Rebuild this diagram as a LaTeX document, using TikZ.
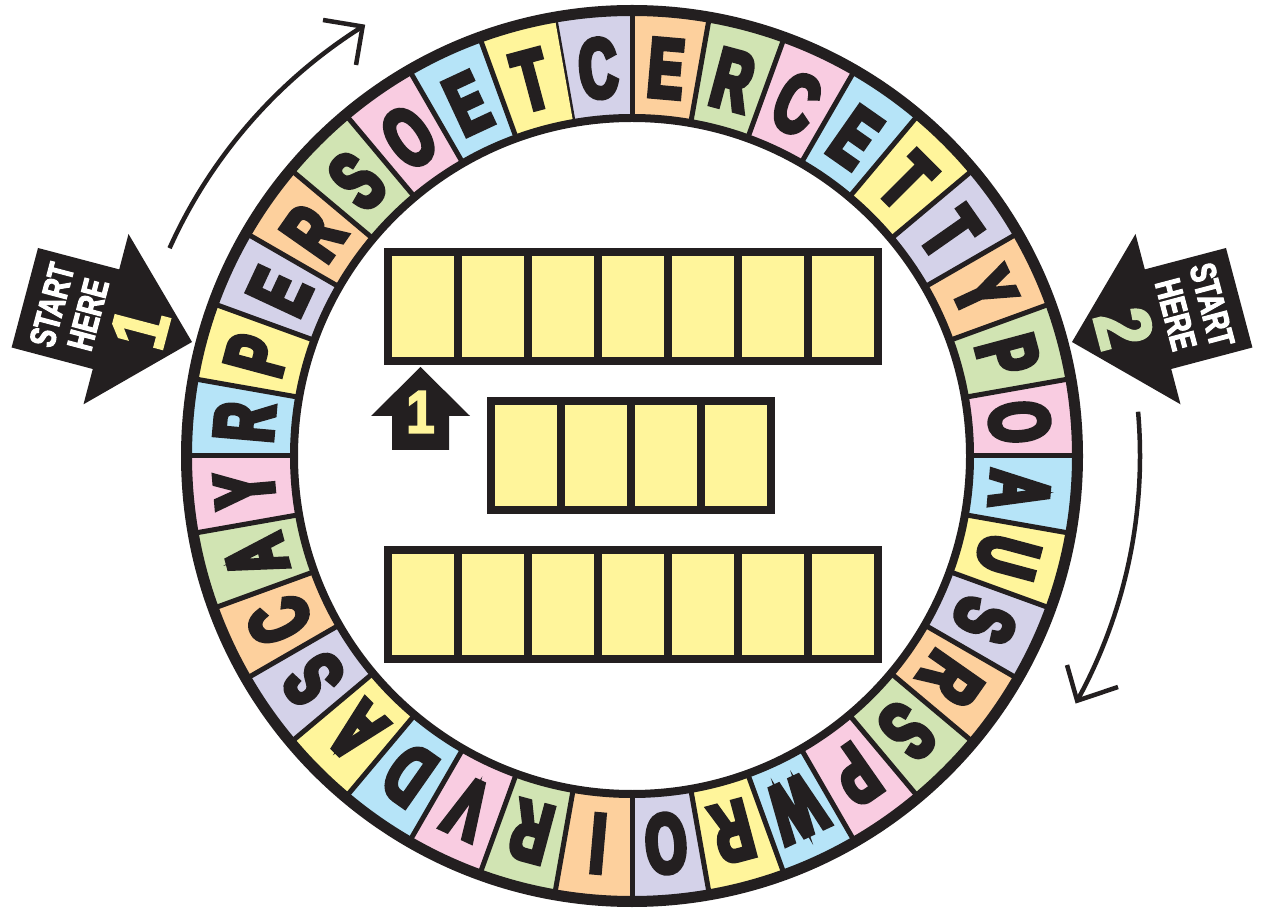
\documentclass[tikz,border=0pt]{standalone}
\usepackage{fontspec}
\setmainfont{Liberation Sans}
\newfontfamily\ringfont{Liberation Sans}[FakeStretch=0.62, BoldFeatures={FakeBold=6}]
\newfontfamily\startfont{Liberation Sans}[FakeStretch=0.72, BoldFeatures={FakeBold=3}]
\newfontfamily\numfont{Liberation Sans}[FakeStretch=0.85, BoldFeatures={FakeBold=3}]
\definecolor{inkc}{HTML}{231F20}
\definecolor{pinkc}{HTML}{F9CCE1}
\definecolor{bluec}{HTML}{B6E4F8}
\definecolor{yellowc}{HTML}{FFF59B}
\definecolor{purplec}{HTML}{D4D2E9}
\definecolor{orangec}{HTML}{FDD09D}
\definecolor{greenc}{HTML}{D1E4B3}
\tikzset{
  cellbox/.style={draw=inkc, fill=yellowc, line width=8pt, minimum width=70pt, minimum height=109pt, inner sep=0pt, outer sep=0pt},
  ringletter/.style={font=\ringfont\bfseries\fontsize{84}{84}\selectfont, text=inkc, inner sep=0pt},
  starttext/.style={font=\startfont\bfseries\fontsize{36}{36}\selectfont, text=white, inner sep=0pt},
  bignum/.style={font=\numfont\bfseries\fontsize{78}{78}\selectfont, inner sep=0pt},
  turnline/.style={draw=inkc, line width=4.5pt},
}
\begin{document}
\begin{tikzpicture}[x=1pt,y=1pt]
\useasboundingbox (0,0) rectangle (1263,908);
\coordinate (ctr) at (632,452);
% ring segments
\foreach \L [count=\i from 0] in {C,E,R,C,E,T,T,Y,P,O,A,U,S,R,S,P,W,R,O,I,R,V,D,A,S,C,A,Y,R,P,E,R,S,O,E,T}{
  \pgfmathtruncatemacro\ci{mod(\i,6)}
  \pgfmathsetmacro\a{95-10*\i}
  \pgfmathsetmacro\aa{\a+5}
  \pgfmathsetmacro\ab{\a-5}
  \pgfmathsetmacro\rot{\a-90}
  \ifcase\ci \def\col{purplec}\or \def\col{orangec}\or \def\col{greenc}\or \def\col{pinkc}\or \def\col{bluec}\or \def\col{yellowc}\fi
  \fill[\col] ([shift={(\aa:338)}]ctr) arc[start angle=\aa, end angle=\ab, radius=338]
     -- ([shift={(\ab:445)}]ctr) arc[start angle=\ab, end angle=\aa, radius=445] -- cycle;
  \draw[inkc, line width=5pt] ([shift={(\aa:338)}]ctr) -- ([shift={(\aa:445)}]ctr);
  \node[ringletter, rotate=\rot] (L\i) at ([shift={(\a:389)}]ctr) {\L};
}
\draw[inkc, line width=11pt] (ctr) circle[radius=445.5];
\draw[inkc, line width=8pt] (ctr) circle[radius=338];
% answer boxes
\foreach \k in {0,...,6}{
  \node[cellbox] (ra\k) at (423+70*\k, 601.5) {};
  \node[cellbox] (rc\k) at (423+70*\k, 303.5) {};
}
\foreach \k in {0,...,3}{
  \node[cellbox] (rb\k) at (526+70*\k, 452.5) {};
}
% small up arrow
\fill[inkc] (420.5,541) -- (470,492) -- (449,492) -- (449,458) -- (392,458) -- (392,492) -- (371,492) -- cycle;
\node[font=\numfont\bfseries\fontsize{60}{60}\selectfont, text=yellowc, inner sep=0pt] (upone) at (420.5,496) {1};
% start here 1
\fill[inkc] (192,566) -- (128.5,674) -- (119.2,638.6) -- (38,660) -- (11.6,560.5) -- (92.8,539) -- (83.5,503.7) -- cycle;
\node[starttext, rotate=75.17] (sa) at (51.9,603.1) {START};
\node[starttext, rotate=75.17] (ha) at (88.1,593.5) {HERE};
\node[bignum, text=yellowc, rotate=75.17] (na) at (139.9,579.8) {1};
% start here 2
\fill[inkc] (1072,566) -- (1135.5,674) -- (1144.8,638.6) -- (1226,660) -- (1252.4,560.5) -- (1171.2,539) -- (1180.5,503.7) -- cycle;
\node[starttext, rotate=-75.17] (sb) at (1212.1,603.1) {START};
\node[starttext, rotate=-75.17] (hb) at (1175.9,593.5) {HERE};
\node[bignum, text=greenc, rotate=-75.17] (nb) at (1124.1,579.8) {2};
% direction arrows
\coordinate (arcA) at ([shift={(155.8:507)}]ctr);
\coordinate (tipA) at ([shift={(122.1:507)}]ctr);
\coordinate (arcB) at ([shift={(5:508)}]ctr);
\coordinate (tipB) at ([shift={(-28.8:508)}]ctr);
\coordinate (barbA1) at (323,888);
\coordinate (barbA2) at (356,843);
\coordinate (barbB1) at (1067,243);
\coordinate (barbB2) at (1118,221);
\draw[turnline] (arcA) arc[start angle=155.8, end angle=122.1, radius=507];
\draw[turnline, line join=miter] (barbA1) -- (tipA) -- (barbA2);
\draw[turnline] (arcB) arc[start angle=5, end angle=-28.8, radius=508];
\draw[turnline, line join=miter] (barbB1) -- (tipB) -- (barbB2);
\end{tikzpicture}
\end{document}
